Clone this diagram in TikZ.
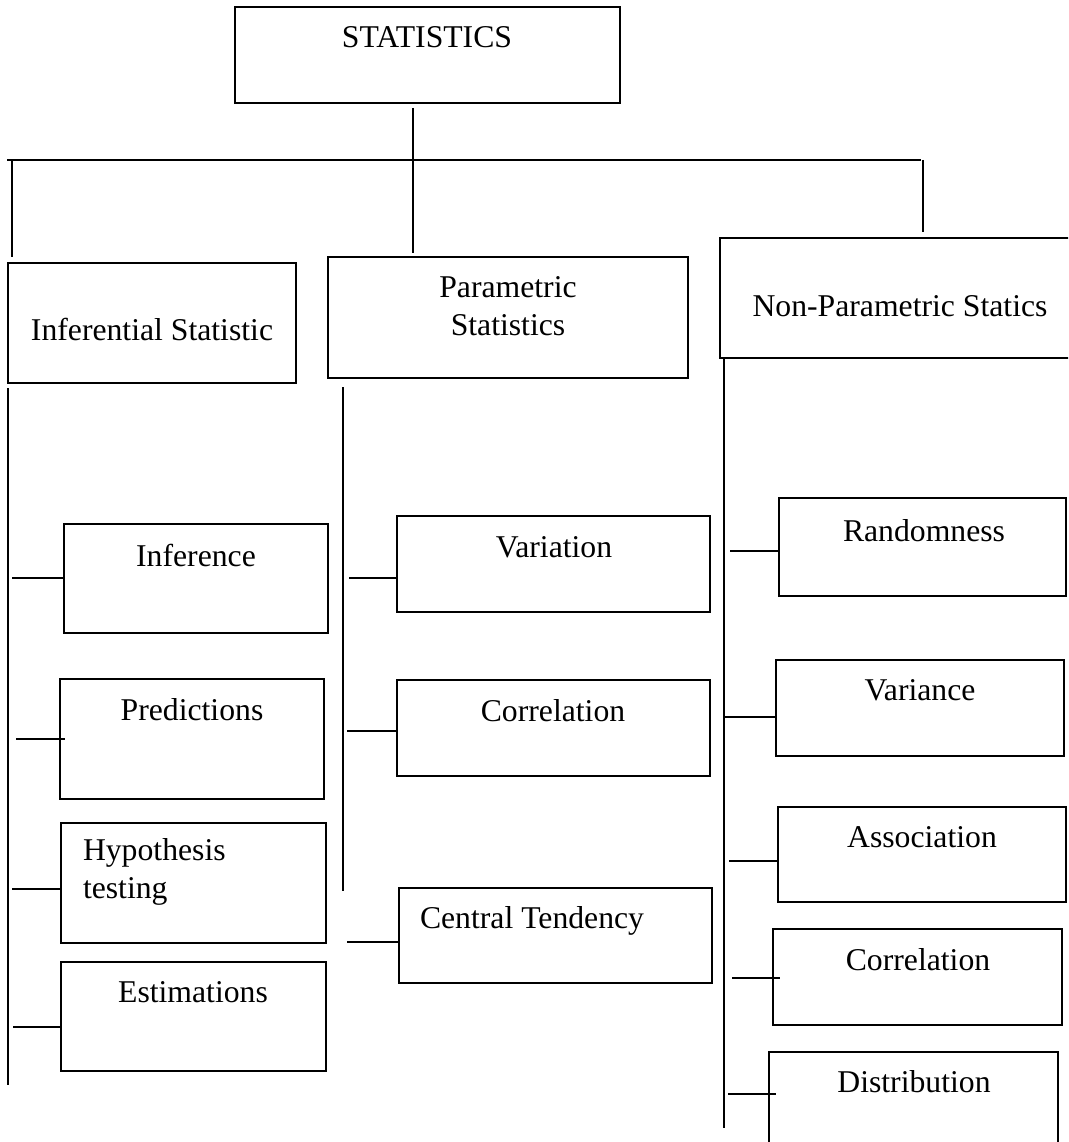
\documentclass[tikz,border=0pt]{standalone}
\usepackage{fontspec}
\setmainfont{Liberation Serif}
\tikzset{
  box/.style={draw, line width=2pt, inner sep=0pt, outer sep=0pt},
  lbl/.style={font=\fontsize{31.7}{38}\selectfont, inner sep=0pt, outer sep=0pt, anchor=base},
  conn/.style={line width=2pt},
}
\newcommand\mkbox[5]{\node[box, minimum width={#4-#2}, minimum height={#5-#3}] (#1) at ({(#2+#4)/2},{(#3+#5)/2}) {};}
\begin{document}
\begin{tikzpicture}[x=1pt,y=-1pt]
\clip (0,0) rectangle (1068,1142);
\fill[white] (0,0) rectangle (1068,1142);
% boxes
\mkbox{stat}{235}{7}{620}{103}
\mkbox{inf}{8}{263}{296}{383}
\mkbox{par}{328}{257}{688}{378}
\mkbox{np}{720}{238}{1085}{358}
\mkbox{infer}{64}{524}{328}{633}
\mkbox{pred}{60}{679}{324}{799}
\mkbox{hyp}{61}{823}{326}{943}
\mkbox{est}{61}{962}{326}{1071}
\mkbox{vari}{397}{516}{710}{612}
\mkbox{corr}{397}{680}{710}{776}
\mkbox{cent}{399}{888}{712}{983}
\mkbox{rand}{779}{498}{1066}{596}
\mkbox{varc}{776}{660}{1064}{756}
\mkbox{assoc}{778}{807}{1066}{902}
\mkbox{corrb}{773}{929}{1062}{1025}
\mkbox{dist}{769}{1052}{1058}{1170}
% labels
\node[lbl] (stat-t) at (427,48) {STATISTICS};
\node[lbl] (inf-t) at (152,340) {Inferential Statistic};
\node[lbl, align=center] (par-t) at (508,335) {Parametric\\Statistics};
\node[lbl] (np-t) at (900,316) {Non-Parametric Statics};
\node[lbl] (infer-t) at (196,566) {Inference};
\node[lbl] (pred-t) at (192,720) {Predictions};
\node[lbl, anchor=base west, align=left] (hyp-t) at (83,898) {Hypothesis\\testing};
\node[lbl] (est-t) at (193,1002) {Estimations};
\node[lbl] (vari-t) at (554,557) {Variation};
\node[lbl] (corr-t) at (553,721) {Correlation};
\node[lbl, anchor=base west] (cent-t) at (420,928) {Central Tendency};
\node[lbl] (rand-t) at (924,541) {Randomness};
\node[lbl] (varc-t) at (920,700) {Variance};
\node[lbl] (assoc-t) at (922,847) {Association};
\node[lbl] (corrb-t) at (918,970) {Correlation};
\node[lbl] (dist-t) at (914,1092) {Distribution};
% trunk coordinates
\coordinate (stemtop) at (413,108);
\coordinate (stembot) at (413,253);
\coordinate (busL) at (7,160);
\coordinate (busR) at (921,160);
\coordinate (tickL) at (12,160);
\coordinate (tickLb) at (12,257);
\coordinate (tickR) at (923,160);
\coordinate (tickRb) at (923,232);
\coordinate (infV1) at (8,388);
\coordinate (infV2) at (8,1085);
\coordinate (parV1) at (343,387);
\coordinate (parV2) at (343,891);
\coordinate (npV1) at (724,358);
\coordinate (npV2) at (724,1128);
\draw[conn] (stemtop) -- (stembot);
\draw[conn] (busL) -- (busR);
\draw[conn] (tickL) -- (tickLb);
\draw[conn] (tickR) -- (tickRb);
\draw[conn] (infV1) -- (infV2);
\draw[conn] (parV1) -- (parV2);
\draw[conn] (npV1) -- (npV2);
% branch stubs
\coordinate (bInfer) at (12,578);
\coordinate (bPred) at (16,739);
\coordinate (bPredE) at (65,739);
\coordinate (bHyp) at (12,889);
\coordinate (bEst) at (13,1027);
\coordinate (bVari) at (349,578);
\coordinate (bCorr) at (347,731);
\coordinate (bCent) at (347,942);
\coordinate (bRand) at (730,551);
\coordinate (bVarc) at (725,717);
\coordinate (bAssoc) at (729,861);
\coordinate (bCorrb) at (732,978);
\coordinate (bCorrbE) at (780,978);
\coordinate (bDist) at (728,1094);
\coordinate (bDistE) at (776,1094);
\draw[conn] (bInfer) -- (bInfer -| infer.west);
\draw[conn] (bPred) -- (bPredE);
\draw[conn] (bHyp) -- (bHyp -| hyp.west);
\draw[conn] (bEst) -- (bEst -| est.west);
\draw[conn] (bVari) -- (bVari -| vari.west);
\draw[conn] (bCorr) -- (bCorr -| corr.west);
\draw[conn] (bCent) -- (bCent -| cent.west);
\draw[conn] (bRand) -- (bRand -| rand.west);
\draw[conn] (bVarc) -- (bVarc -| varc.west);
\draw[conn] (bAssoc) -- (bAssoc -| assoc.west);
\draw[conn] (bCorrb) -- (bCorrbE);
\draw[conn] (bDist) -- (bDistE);
\end{tikzpicture}
\end{document}
